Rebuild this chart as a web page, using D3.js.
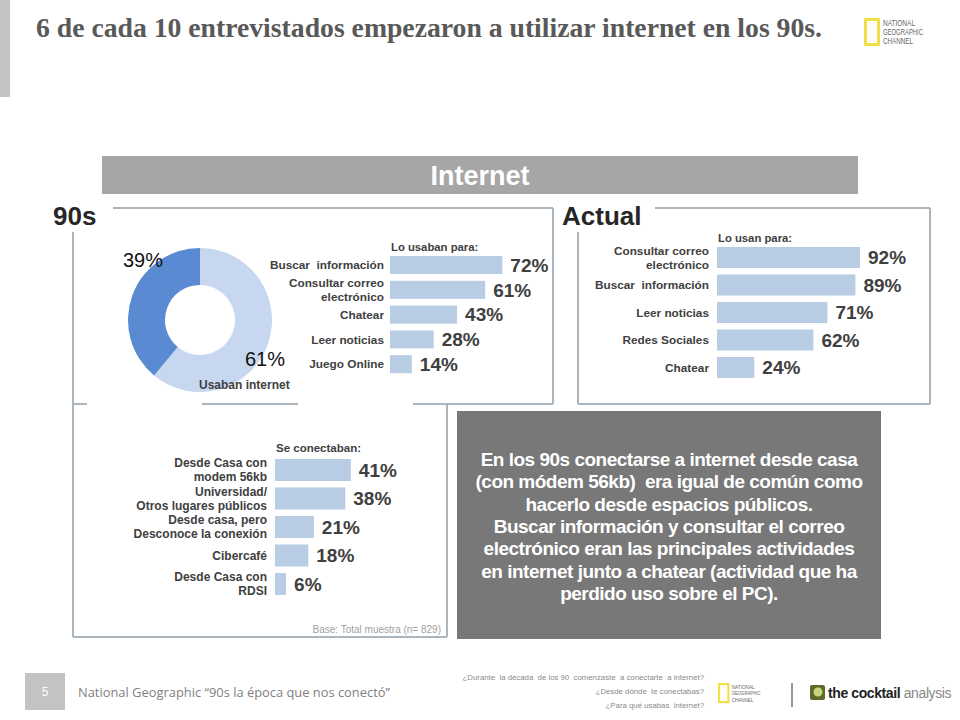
<!DOCTYPE html>
<html><head><meta charset="utf-8">
<script src="https://cdn.jsdelivr.net/npm/d3@7"></script>
<style>
html,body{margin:0;padding:0;background:#fff;}
svg{display:block;font-family:"Liberation Sans",Arial,sans-serif;}
</style></head>
<body>
<script>
// ---------- DATA ----------
const donutCats = ["No usaban", "Usaban internet"];
const donutVals = [39, 61];

const uso90Cats = ["Buscar  información", "Consultar correo\nelectrónico", "Chatear", "Leer noticias", "Juego Online"];
const uso90Vals = [72, 61, 43, 28, 14];

const usoActCats = ["Consultar correo\nelectrónico", "Buscar  información", "Leer noticias", "Redes Sociales", "Chatear"];
const usoActVals = [92, 89, 71, 62, 24];

const conexCats = ["Desde Casa con\nmodem 56kb", "Universidad/\nOtros lugares públicos", "Desde casa, pero\nDesconoce la conexión", "Cibercafé", "Desde Casa con\nRDSI"];
const conexVals = [41, 38, 21, 18, 6];

const titleText = "6 de cada 10 entrevistados empezaron a utilizar internet en los 90s.";
const summaryLines = [
  "En los 90s conectarse a internet desde casa",
  "(con módem 56kb)  era igual de común como",
  "hacerlo desde espacios públicos.",
  "Buscar información y consultar el correo",
  "electrónico eran las principales actividades",
  "en internet junto a chatear (actividad que ha",
  "perdido uso sobre el PC)."
];
const footerQuestions = [
  "¿Durante  la década  de los 90  comenzaste  a conectarte  a internet?",
  "¿Desde dónde  te conectabas?",
  "¿Para qué usabas  internet?"
];

// ---------- DRAW ----------
const W = 960, H = 720;
const svg = d3.select("body").append("svg").attr("width", W).attr("height", H);
const frameCol = "#aab5be", barCol = "#b8cce4", txtDark = "#404040";

// left accent bar
svg.append("rect").attr("x", 0).attr("y", 0).attr("width", 10).attr("height", 97).attr("fill", "#c3c3c3");

// title
svg.append("text").attr("x", 36).attr("y", 37)
  .attr("font-family", "'Liberation Serif','DejaVu Serif',serif").attr("font-weight", "bold")
  .attr("font-size", 27).attr("fill", "#595959")
  .attr("textLength", 786).attr("lengthAdjust", "spacingAndGlyphs")
  .text(titleText);

// NG logo helper
function ngLogo(x, y, s) {
  const g = svg.append("g").attr("transform", `translate(${x},${y}) scale(${s})`);
  g.append("rect").attr("x", 1.5).attr("y", 1.5).attr("width", 13).attr("height", 25)
    .attr("fill", "none").attr("stroke", "#f2e04a").attr("stroke-width", 3);
  ["NATIONAL", "GEOGRAPHIC", "CHANNEL"].forEach((t, i) => {
    g.append("text").attr("x", 19).attr("y", 8 + i * 9).attr("font-size", 8.5)
      .attr("fill", "#666").attr("textLength", t === "GEOGRAPHIC" ? 40 : (t === "NATIONAL" ? 32 : 30))
      .attr("lengthAdjust", "spacingAndGlyphs").text(t);
  });
}
ngLogo(864, 18, 1);

// Internet header
svg.append("rect").attr("x", 102).attr("y", 156).attr("width", 756).attr("height", 38).attr("fill", "#a6a6a6");
svg.append("text").attr("x", 480).attr("y", 185).attr("text-anchor", "middle")
  .attr("font-size", 27).attr("font-weight", "bold").attr("fill", "#fff").text("Internet");

// section labels
svg.append("text").attr("x", 53).attr("y", 225).attr("font-size", 26).attr("font-weight", "bold").attr("fill", "#262626").text("90s");
svg.append("text").attr("x", 562).attr("y", 225).attr("font-size", 26).attr("font-weight", "bold").attr("fill", "#262626").text("Actual");

// frames
const lines = [
  [113, 208, 553, 208], [553, 208, 553, 404], [73, 232, 73, 637],
  [73, 404, 87, 404], [202, 404, 298, 404], [413, 404, 553, 404],
  [447, 404, 447, 637], [73, 637, 447, 637],
  [655, 208, 930, 208], [930, 208, 930, 404], [578, 404, 930, 404], [578, 232, 578, 404]
];
svg.selectAll("line.frame").data(lines).enter().append("line").attr("class", "frame")
  .attr("x1", d => d[0]).attr("y1", d => d[1]).attr("x2", d => d[2]).attr("y2", d => d[3])
  .attr("stroke", frameCol).attr("stroke-width", 2);

// donut
const donutData = donutCats.map((c, i) => ({ cat: c, val: donutVals[i] }));
// light (usaban) goes clockwise from top, dark ends at top
const ordered = [donutData[1], donutData[0]];
const arcs = d3.pie().sort(null).value(d => d.val)(ordered);
const arc = d3.arc().innerRadius(35).outerRadius(72);
const dg = svg.append("g").attr("transform", "translate(200,320)");
const donutColor = d3.scaleOrdinal().domain(donutCats).range(["#5a8ad2", "#c6d7ef"]);
dg.selectAll("path").data(arcs).enter().append("path").attr("d", arc)
  .attr("fill", d => donutColor(d.data.cat));
svg.append("text").attr("x", 123).attr("y", 267).attr("font-size", 20).attr("fill", "#111").text(donutVals[0] + "%");
svg.append("text").attr("x", 245).attr("y", 366).attr("font-size", 20).attr("fill", "#111").text(donutVals[1] + "%");
svg.append("text").attr("x", 199).attr("y", 389).attr("font-size", 12).attr("font-weight", "bold").attr("fill", txtDark).text(donutCats[1]);

// bar chart helper
function barChart(opts) {
  const { cats, vals, x0, y0, y1, pxPer100, pad, title, titleY, labelX, fs, valFs, lineGap } = opts;
  const x = d3.scaleLinear().domain([0, 100]).range([x0, x0 + pxPer100]);
  const y = d3.scaleBand().domain(cats).range([y0, y1]).paddingInner(pad).paddingOuter(0);
  const g = svg.append("g");
  g.append("text").attr("x", x0 + 1).attr("y", titleY).attr("font-size", fs - 0.5).attr("font-weight", "bold")
    .attr("fill", txtDark).text(title);
  cats.forEach((c, i) => {
    const yc = y(c) + y.bandwidth() / 2;
    g.append("rect").attr("x", x(0)).attr("y", y(c)).attr("width", x(vals[i]) - x(0))
      .attr("height", y.bandwidth()).attr("fill", barCol);
    g.append("text").attr("x", x(vals[i]) + 8).attr("y", yc + valFs * 0.36)
      .attr("font-size", valFs).attr("font-weight", "bold").attr("fill", txtDark).text(vals[i] + "%");
    const parts = c.split("\n");
    parts.forEach((p, j) => {
      const off = parts.length === 1 ? 0 : (j === 0 ? -lineGap / 2 : lineGap / 2);
      g.append("text").attr("x", labelX).attr("y", yc + off + fs * 0.36).attr("text-anchor", "end")
        .attr("font-size", fs).attr("font-weight", "bold").attr("fill", txtDark)
        .style("white-space", "pre").text(p);
    });
  });
}

barChart({ cats: uso90Cats, vals: uso90Vals, x0: 390, y0: 256, y1: 373.2, pxPer100: 156, pad: 0.274,
  title: "Lo usaban para:", titleY: 251, labelX: 384, fs: 11.8, valFs: 19, lineGap: 14 });
barChart({ cats: usoActCats, vals: usoActVals, x0: 717, y0: 247, y1: 378, pxPer100: 155.5, pad: 0.236,
  title: "Lo usan para:", titleY: 242, labelX: 709, fs: 11.8, valFs: 19, lineGap: 14 });
barChart({ cats: conexCats, vals: conexVals, x0: 275, y0: 459, y1: 595, pxPer100: 185, pad: 0.228,
  title: "Se conectaban:", titleY: 452, labelX: 267, fs: 12, valFs: 19, lineGap: 14 });

svg.append("text").attr("x", 441).attr("y", 633).attr("text-anchor", "end").attr("font-size", 10)
  .attr("fill", "#a0a0a0").text("Base: Total muestra (n= 829)");

// summary box
svg.append("rect").attr("x", 457).attr("y", 411).attr("width", 424).attr("height", 228).attr("fill", "#787878");
svg.selectAll("text.sum").data(summaryLines).enter().append("text").attr("class", "sum")
  .attr("x", 669).attr("y", (d, i) => 466 + i * 22.3).attr("text-anchor", "middle")
  .attr("font-size", 19).attr("font-weight", "bold").attr("fill", "#fff")
  .attr("letter-spacing", -0.5).style("white-space", "pre").text(d => d);

// footer
svg.append("rect").attr("x", 25).attr("y", 673).attr("width", 40).attr("height", 37).attr("fill", "#c3c3c3");
svg.append("text").attr("x", 45).attr("y", 696).attr("text-anchor", "middle").attr("font-size", 12).attr("fill", "#fff").text("5");
svg.append("text").attr("x", 78).attr("y", 697).attr("font-size", 13).attr("fill", "#7f7f7f")
  .attr("font-family", "'Open Sans','Liberation Sans',sans-serif")
  .attr("textLength", 312).attr("lengthAdjust", "spacingAndGlyphs")
  .text("National Geographic “90s la época que nos conectó”");
svg.selectAll("text.fq").data(footerQuestions).enter().append("text").attr("class", "fq")
  .attr("x", 704).attr("y", (d, i) => 680 + i * 14).attr("text-anchor", "end")
  .attr("font-size", 7.8).attr("fill", "#8a8a8a").style("white-space", "pre").text(d => d);
ngLogo(718, 683, 0.72);
svg.append("line").attr("x1", 792).attr("y1", 683).attr("x2", 792).attr("y2", 707).attr("stroke", "#333").attr("stroke-width", 1);
svg.append("rect").attr("x", 810).attr("y", 685).attr("width", 15).attr("height", 15).attr("rx", 2).attr("fill", "#5c6b2d");
svg.append("circle").attr("cx", 818).attr("cy", 692).attr("r", 4.5).attr("fill", "#c9d77a");
const ct = svg.append("text").attr("x", 828).attr("y", 698).attr("font-size", 14).attr("letter-spacing", -0.4);
ct.append("tspan").attr("font-weight", "bold").attr("fill", "#222").text("the cocktail ");
ct.append("tspan").attr("fill", "#888").text("analysis");
</script>
</body></html>
